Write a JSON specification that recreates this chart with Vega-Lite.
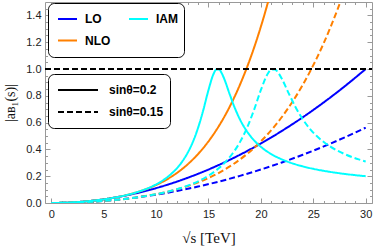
{
  "$schema": "https://vega.github.io/schema/vega-lite/v6.json",
  "width": 327,
  "height": 201,
  "autosize": {"type": "none"},
  "padding": {"left": 45, "top": 2, "right": 2, "bottom": 45},
  "background": "white",
  "config": {"view": {"stroke": null}, "font": "Liberation Sans"},
  "datasets": {
    "curves": [
      {"E": 0, "v": 0, "model": "LO", "sin": "sinθ=0.2"},
      {"E": 2, "v": 0.0044, "model": "LO", "sin": "sinθ=0.2"},
      {"E": 4, "v": 0.0178, "model": "LO", "sin": "sinθ=0.2"},
      {"E": 6, "v": 0.04, "model": "LO", "sin": "sinθ=0.2"},
      {"E": 8, "v": 0.0711, "model": "LO", "sin": "sinθ=0.2"},
      {"E": 10, "v": 0.1111, "model": "LO", "sin": "sinθ=0.2"},
      {"E": 12, "v": 0.16, "model": "LO", "sin": "sinθ=0.2"},
      {"E": 14, "v": 0.2178, "model": "LO", "sin": "sinθ=0.2"},
      {"E": 16, "v": 0.2844, "model": "LO", "sin": "sinθ=0.2"},
      {"E": 18, "v": 0.36, "model": "LO", "sin": "sinθ=0.2"},
      {"E": 20, "v": 0.4444, "model": "LO", "sin": "sinθ=0.2"},
      {"E": 22, "v": 0.5378, "model": "LO", "sin": "sinθ=0.2"},
      {"E": 24, "v": 0.64, "model": "LO", "sin": "sinθ=0.2"},
      {"E": 26, "v": 0.7511, "model": "LO", "sin": "sinθ=0.2"},
      {"E": 28, "v": 0.8711, "model": "LO", "sin": "sinθ=0.2"},
      {"E": 30, "v": 1.0, "model": "LO", "sin": "sinθ=0.2"},

      {"E": 0, "v": 0, "model": "LO", "sin": "sinθ=0.15"},
      {"E": 2, "v": 0.0025, "model": "LO", "sin": "sinθ=0.15"},
      {"E": 4, "v": 0.01, "model": "LO", "sin": "sinθ=0.15"},
      {"E": 6, "v": 0.0225, "model": "LO", "sin": "sinθ=0.15"},
      {"E": 8, "v": 0.04, "model": "LO", "sin": "sinθ=0.15"},
      {"E": 10, "v": 0.0625, "model": "LO", "sin": "sinθ=0.15"},
      {"E": 12, "v": 0.09, "model": "LO", "sin": "sinθ=0.15"},
      {"E": 14, "v": 0.1225, "model": "LO", "sin": "sinθ=0.15"},
      {"E": 16, "v": 0.16, "model": "LO", "sin": "sinθ=0.15"},
      {"E": 18, "v": 0.2025, "model": "LO", "sin": "sinθ=0.15"},
      {"E": 20, "v": 0.25, "model": "LO", "sin": "sinθ=0.15"},
      {"E": 22, "v": 0.3025, "model": "LO", "sin": "sinθ=0.15"},
      {"E": 24, "v": 0.36, "model": "LO", "sin": "sinθ=0.15"},
      {"E": 26, "v": 0.4225, "model": "LO", "sin": "sinθ=0.15"},
      {"E": 28, "v": 0.49, "model": "LO", "sin": "sinθ=0.15"},
      {"E": 30, "v": 0.5625, "model": "LO", "sin": "sinθ=0.15"},

      {"E": 0, "v": 0, "model": "NLO", "sin": "sinθ=0.2"},
      {"E": 2, "v": 0.0044, "model": "NLO", "sin": "sinθ=0.2"},
      {"E": 4, "v": 0.0178, "model": "NLO", "sin": "sinθ=0.2"},
      {"E": 6, "v": 0.04, "model": "NLO", "sin": "sinθ=0.2"},
      {"E": 8, "v": 0.0765, "model": "NLO", "sin": "sinθ=0.2"},
      {"E": 10, "v": 0.1343, "model": "NLO", "sin": "sinθ=0.2"},
      {"E": 11, "v": 0.1747, "model": "NLO", "sin": "sinθ=0.2"},
      {"E": 12, "v": 0.2252, "model": "NLO", "sin": "sinθ=0.2"},
      {"E": 13, "v": 0.2879, "model": "NLO", "sin": "sinθ=0.2"},
      {"E": 14, "v": 0.3653, "model": "NLO", "sin": "sinθ=0.2"},
      {"E": 15, "v": 0.4602, "model": "NLO", "sin": "sinθ=0.2"},
      {"E": 16, "v": 0.5756, "model": "NLO", "sin": "sinθ=0.2"},
      {"E": 17, "v": 0.7151, "model": "NLO", "sin": "sinθ=0.2"},
      {"E": 18, "v": 0.8824, "model": "NLO", "sin": "sinθ=0.2"},
      {"E": 19, "v": 1.0814, "model": "NLO", "sin": "sinθ=0.2"},
      {"E": 19.5, "v": 1.1942, "model": "NLO", "sin": "sinθ=0.2"},
      {"E": 20, "v": 1.3168, "model": "NLO", "sin": "sinθ=0.2"},
      {"E": 20.5, "v": 1.4493, "model": "NLO", "sin": "sinθ=0.2"},
      {"E": 21, "v": 1.5932, "model": "NLO", "sin": "sinθ=0.2"},

      {"E": 0, "v": 0, "model": "NLO", "sin": "sinθ=0.15"},
      {"E": 4, "v": 0.01, "model": "NLO", "sin": "sinθ=0.15"},
      {"E": 8, "v": 0.04, "model": "NLO", "sin": "sinθ=0.15"},
      {"E": 10.667, "v": 0.0765, "model": "NLO", "sin": "sinθ=0.15"},
      {"E": 13.333, "v": 0.1343, "model": "NLO", "sin": "sinθ=0.15"},
      {"E": 14.667, "v": 0.1747, "model": "NLO", "sin": "sinθ=0.15"},
      {"E": 16, "v": 0.2252, "model": "NLO", "sin": "sinθ=0.15"},
      {"E": 17.333, "v": 0.2879, "model": "NLO", "sin": "sinθ=0.15"},
      {"E": 18.667, "v": 0.3653, "model": "NLO", "sin": "sinθ=0.15"},
      {"E": 20, "v": 0.4602, "model": "NLO", "sin": "sinθ=0.15"},
      {"E": 21.333, "v": 0.5756, "model": "NLO", "sin": "sinθ=0.15"},
      {"E": 22.667, "v": 0.7151, "model": "NLO", "sin": "sinθ=0.15"},
      {"E": 24, "v": 0.8824, "model": "NLO", "sin": "sinθ=0.15"},
      {"E": 25.333, "v": 1.0814, "model": "NLO", "sin": "sinθ=0.15"},
      {"E": 26, "v": 1.1942, "model": "NLO", "sin": "sinθ=0.15"},
      {"E": 26.667, "v": 1.3168, "model": "NLO", "sin": "sinθ=0.15"},
      {"E": 27.333, "v": 1.4493, "model": "NLO", "sin": "sinθ=0.15"},
      {"E": 28, "v": 1.5932, "model": "NLO", "sin": "sinθ=0.15"},

      {"E": 0, "v": 0, "model": "IAM", "sin": "sinθ=0.2"},
      {"E": 2, "v": 0.0044, "model": "IAM", "sin": "sinθ=0.2"},
      {"E": 4, "v": 0.0178, "model": "IAM", "sin": "sinθ=0.2"},
      {"E": 6, "v": 0.04, "model": "IAM", "sin": "sinθ=0.2"},
      {"E": 8, "v": 0.0767, "model": "IAM", "sin": "sinθ=0.2"},
      {"E": 10, "v": 0.1391, "model": "IAM", "sin": "sinθ=0.2"},
      {"E": 11, "v": 0.1884, "model": "IAM", "sin": "sinθ=0.2"},
      {"E": 12, "v": 0.2607, "model": "IAM", "sin": "sinθ=0.2"},
      {"E": 12.5, "v": 0.3102, "model": "IAM", "sin": "sinθ=0.2"},
      {"E": 13, "v": 0.373, "model": "IAM", "sin": "sinθ=0.2"},
      {"E": 13.5, "v": 0.4543, "model": "IAM", "sin": "sinθ=0.2"},
      {"E": 14, "v": 0.5597, "model": "IAM", "sin": "sinθ=0.2"},
      {"E": 14.5, "v": 0.6924, "model": "IAM", "sin": "sinθ=0.2"},
      {"E": 15, "v": 0.8435, "model": "IAM", "sin": "sinθ=0.2"},
      {"E": 15.5, "v": 0.9667, "model": "IAM", "sin": "sinθ=0.2"},
      {"E": 15.75, "v": 0.9961, "model": "IAM", "sin": "sinθ=0.2"},
      {"E": 16, "v": 0.9965, "model": "IAM", "sin": "sinθ=0.2"},
      {"E": 16.25, "v": 0.9706, "model": "IAM", "sin": "sinθ=0.2"},
      {"E": 16.5, "v": 0.9268, "model": "IAM", "sin": "sinθ=0.2"},
      {"E": 17, "v": 0.8166, "model": "IAM", "sin": "sinθ=0.2"},
      {"E": 17.5, "v": 0.7112, "model": "IAM", "sin": "sinθ=0.2"},
      {"E": 18, "v": 0.6238, "model": "IAM", "sin": "sinθ=0.2"},
      {"E": 18.5, "v": 0.5544, "model": "IAM", "sin": "sinθ=0.2"},
      {"E": 19, "v": 0.4993, "model": "IAM", "sin": "sinθ=0.2"},
      {"E": 19.5, "v": 0.4552, "model": "IAM", "sin": "sinθ=0.2"},
      {"E": 20, "v": 0.419, "model": "IAM", "sin": "sinθ=0.2"},
      {"E": 21, "v": 0.3646, "model": "IAM", "sin": "sinθ=0.2"},
      {"E": 22, "v": 0.3254, "model": "IAM", "sin": "sinθ=0.2"},
      {"E": 23, "v": 0.296, "model": "IAM", "sin": "sinθ=0.2"},
      {"E": 24, "v": 0.2733, "model": "IAM", "sin": "sinθ=0.2"},
      {"E": 25, "v": 0.2549, "model": "IAM", "sin": "sinθ=0.2"},
      {"E": 26, "v": 0.24, "model": "IAM", "sin": "sinθ=0.2"},
      {"E": 27, "v": 0.2276, "model": "IAM", "sin": "sinθ=0.2"},
      {"E": 28, "v": 0.217, "model": "IAM", "sin": "sinθ=0.2"},
      {"E": 29, "v": 0.2079, "model": "IAM", "sin": "sinθ=0.2"},
      {"E": 30, "v": 0.2, "model": "IAM", "sin": "sinθ=0.2"},

      {"E": 0, "v": 0, "model": "IAM", "sin": "sinθ=0.15"},
      {"E": 4, "v": 0.01, "model": "IAM", "sin": "sinθ=0.15"},
      {"E": 8, "v": 0.04, "model": "IAM", "sin": "sinθ=0.15"},
      {"E": 10.667, "v": 0.0767, "model": "IAM", "sin": "sinθ=0.15"},
      {"E": 13.333, "v": 0.1391, "model": "IAM", "sin": "sinθ=0.15"},
      {"E": 14.667, "v": 0.1884, "model": "IAM", "sin": "sinθ=0.15"},
      {"E": 16, "v": 0.2607, "model": "IAM", "sin": "sinθ=0.15"},
      {"E": 16.667, "v": 0.3102, "model": "IAM", "sin": "sinθ=0.15"},
      {"E": 17.333, "v": 0.373, "model": "IAM", "sin": "sinθ=0.15"},
      {"E": 18, "v": 0.4543, "model": "IAM", "sin": "sinθ=0.15"},
      {"E": 18.667, "v": 0.5597, "model": "IAM", "sin": "sinθ=0.15"},
      {"E": 19.333, "v": 0.6924, "model": "IAM", "sin": "sinθ=0.15"},
      {"E": 20, "v": 0.8435, "model": "IAM", "sin": "sinθ=0.15"},
      {"E": 20.667, "v": 0.9667, "model": "IAM", "sin": "sinθ=0.15"},
      {"E": 21, "v": 0.9961, "model": "IAM", "sin": "sinθ=0.15"},
      {"E": 21.333, "v": 0.9965, "model": "IAM", "sin": "sinθ=0.15"},
      {"E": 21.667, "v": 0.9706, "model": "IAM", "sin": "sinθ=0.15"},
      {"E": 22, "v": 0.9268, "model": "IAM", "sin": "sinθ=0.15"},
      {"E": 22.667, "v": 0.8166, "model": "IAM", "sin": "sinθ=0.15"},
      {"E": 23.333, "v": 0.7112, "model": "IAM", "sin": "sinθ=0.15"},
      {"E": 24, "v": 0.6238, "model": "IAM", "sin": "sinθ=0.15"},
      {"E": 24.667, "v": 0.5544, "model": "IAM", "sin": "sinθ=0.15"},
      {"E": 25.333, "v": 0.4993, "model": "IAM", "sin": "sinθ=0.15"},
      {"E": 26, "v": 0.4552, "model": "IAM", "sin": "sinθ=0.15"},
      {"E": 26.667, "v": 0.419, "model": "IAM", "sin": "sinθ=0.15"},
      {"E": 28, "v": 0.3646, "model": "IAM", "sin": "sinθ=0.15"},
      {"E": 29.333, "v": 0.3254, "model": "IAM", "sin": "sinθ=0.15"},
      {"E": 30, "v": 0.3098, "model": "IAM", "sin": "sinθ=0.15"}
    ],
    "unit": [
      {"E": -0.6, "v": 1.0},
      {"E": 30.6, "v": 1.0}
    ]
  },
  "layer": [
    {
      "data": {"name": "curves"},
      "mark": {"type": "line", "strokeWidth": 2, "clip": true, "interpolate": "monotone"},
      "encoding": {
        "x": {
          "field": "E", "type": "quantitative",
          "scale": {"domain": [-0.6, 30.6], "nice": false, "zero": false},
          "axis": {
            "orient": "bottom",
            "values": [0,1,2,3,4,5,6,7,8,9,10,11,12,13,14,15,16,17,18,19,20,21,22,23,24,25,26,27,28,29,30],
            "labelExpr": "datum.value % 5 === 0 ? datum.label : ''",
            "format": "d",
            "tickSize": {"condition": {"test": "datum.value % 5 === 0", "value": -5}, "value": -2.5},
            "tickColor": "#999999",
            "domainColor": "#999999",
            "labelColor": "#222222",
            "labelFont": "Liberation Sans",
            "labelFontSize": 11,
            "labelPadding": 10,
            "labelFlush": false,
            "labelOverlap": false,
            "grid": false,
            "title": "√s [TeV]",
            "titleFont": "Liberation Serif",
            "titleFontSize": 15,
            "titleFontWeight": "normal",
            "titleColor": "#111111",
            "titlePadding": 9
          }
        },
        "y": {
          "field": "v", "type": "quantitative",
          "scale": {"domain": [0, 1.5], "nice": false, "zero": false},
          "axis": {
            "orient": "left",
            "values": [0,0.05,0.1,0.15,0.2,0.25,0.3,0.35,0.4,0.45,0.5,0.55,0.6,0.65,0.7,0.75,0.8,0.85,0.9,0.95,1,1.05,1.1,1.15,1.2,1.25,1.3,1.35,1.4,1.45],
            "labelExpr": "abs(datum.value*5 - round(datum.value*5)) < 0.001 ? format(datum.value, '.1f') : ''",
            "tickSize": {"condition": {"test": "abs(datum.value*5 - round(datum.value*5)) < 0.001", "value": -5}, "value": -2.5},
            "tickColor": "#999999",
            "domainColor": "#999999",
            "labelColor": "#222222",
            "labelFont": "Liberation Sans",
            "labelFontSize": 11,
            "labelPadding": 9,
            "labelFlush": false,
            "labelOverlap": false,
            "grid": false,
            "title": "|aʙ₁(s)|",
            "titleFont": "Liberation Serif",
            "titleFontSize": 14,
            "titleFontWeight": "normal",
            "titleColor": "#111111",
            "titlePadding": 8
          }
        },
        "color": {
          "field": "model", "type": "nominal",
          "scale": {"domain": ["LO", "NLO", "IAM"], "range": ["#0000FF", "#FF8000", "#00FFFF"]},
          "legend": {
            "title": null,
            "orient": "none",
            "legendX": 3,
            "legendY": 1,
            "columns": 2,
            "gridAlign": "all",
            "columnPadding": 14,
            "rowPadding": 1.5,
            "padding": 6,
            "clipHeight": 20,
            "symbolType": "stroke",
            "symbolSize": 361,
            "symbolStrokeWidth": 2,
            "symbolOffset": 3,
            "labelOffset": 7,
            "labelFont": "Liberation Sans",
            "labelFontWeight": "bold",
            "labelFontSize": 12,
            "labelColor": "black",
            "strokeColor": "black",
            "fillColor": "white",
            "cornerRadius": 6
          }
        },
        "strokeDash": {
          "field": "sin", "type": "nominal",
          "scale": {"domain": ["sinθ=0.2", "sinθ=0.15"], "range": [[1, 0], [6, 3]]},
          "legend": {
            "title": null,
            "orient": "none",
            "legendX": 3,
            "legendY": 72,
            "direction": "vertical",
            "rowPadding": 2,
            "padding": 6,
            "clipHeight": 20,
            "symbolType": "stroke",
            "symbolSize": 1600,
            "symbolStrokeWidth": 2,
            "symbolStrokeColor": "black",
            "symbolOffset": 3,
            "labelOffset": 10,
            "labelFont": "Liberation Sans",
            "labelFontWeight": "bold",
            "labelFontSize": 12,
            "labelColor": "black",
            "strokeColor": "black",
            "fillColor": "white",
            "cornerRadius": 6
          }
        }
      }
    },
    {
      "data": {"name": "unit"},
      "mark": {"type": "line", "color": "black", "strokeWidth": 2, "strokeDash": [6, 3], "clip": true},
      "encoding": {
        "x": {
          "field": "E", "type": "quantitative",
          "axis": {
            "orient": "top",
            "values": [0,1,2,3,4,5,6,7,8,9,10,11,12,13,14,15,16,17,18,19,20,21,22,23,24,25,26,27,28,29,30],
            "labels": false,
            "tickSize": {"condition": {"test": "datum.value % 5 === 0", "value": -5}, "value": -2.5},
            "tickColor": "#999999",
            "domainColor": "#999999",
            "grid": false,
            "title": null
          }
        },
        "y": {
          "field": "v", "type": "quantitative",
          "axis": {
            "orient": "right",
            "values": [0,0.05,0.1,0.15,0.2,0.25,0.3,0.35,0.4,0.45,0.5,0.55,0.6,0.65,0.7,0.75,0.8,0.85,0.9,0.95,1,1.05,1.1,1.15,1.2,1.25,1.3,1.35,1.4,1.45],
            "labels": false,
            "tickSize": {"condition": {"test": "abs(datum.value*5 - round(datum.value*5)) < 0.001", "value": -5}, "value": -2.5},
            "tickColor": "#999999",
            "domainColor": "#999999",
            "grid": false,
            "title": null
          }
        }
      }
    }
  ],
  "resolve": {"axis": {"x": "independent", "y": "independent"}}
}
